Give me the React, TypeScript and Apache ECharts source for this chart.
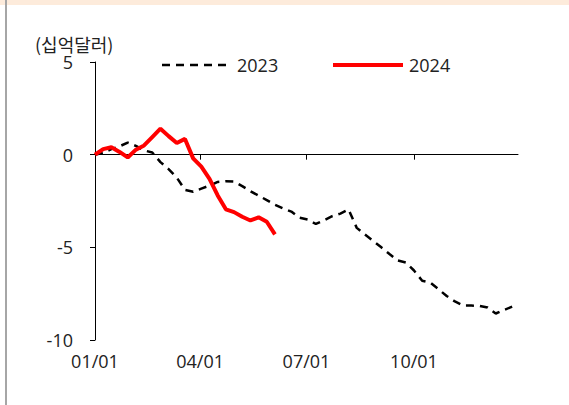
import React, { useEffect, useRef } from "react";
import * as echarts from "echarts";

const tickDays = [0, 90, 181, 273];
const tickLabels = ["01/01", "04/01", "07/01", "10/01"];
const yTicks = [5, 0, -5, -10];
const seriesNames = ["2023", "2024"];
const unitLabel = "(십억달러)";

// weekly values (week index -> day = 7 * index)
const values2023 = [
  0, 0.1, 0.3, 0.45, 0.65, 0.47, 0.23, 0.12, -0.4, -0.78,
  -1.24, -1.9, -2.0, -1.83, -1.67, -1.47, -1.43, -1.45, -1.7, -1.97,
  -2.21, -2.45, -2.7, -2.9, -3.07, -3.4, -3.5, -3.74, -3.54, -3.32,
  -3.18, -2.96, -3.95, -4.31, -4.65, -5.0, -5.36, -5.71, -5.82, -6.25,
  -6.8, -6.9, -7.26, -7.63, -7.92, -8.14, -8.14, -8.16, -8.25, -8.57,
  -8.38, -8.2,
];
const values2024 = [
  0, 0.3, 0.4, 0.15, -0.15, 0.27, 0.5, 0.95, 1.4, 1.0,
  0.63, 0.85, -0.2, -0.65, -1.3, -2.2, -2.95, -3.1, -3.35, -3.55,
  -3.38, -3.62, -4.3,
];

const NUM_FONT = "'Open Sans', 'Noto Sans CJK KR', sans-serif";
const KR_FONT = "'Noto Sans CJK KR', sans-serif";
const TXT = "#222";

export default function App() {
  const ref = useRef<HTMLDivElement>(null);
  useEffect(() => {
    if (!ref.current) return;
    const chart = echarts.init(ref.current, undefined, { renderer: "svg" });
    const toPairs = (arr: number[]) => arr.map((v, i) => [i * 7, v]);
    chart.setOption({
      animation: false,
      backgroundColor: "#ffffff",
      grid: { left: 95, top: 62, right: 51, bottom: 65, containLabel: false },
      graphic: [
        { type: "rect", left: 0, top: 0, shape: { width: 569, height: 5 }, style: { fill: "#FDEBDB" } },
        { type: "rect", left: 5, top: 0, shape: { width: 2, height: 405 }, style: { fill: "#A6A6A6" } },
        {
          type: "text",
          x: 35,
          y: 43.5,
          style: {
            text: unitLabel,
            fontSize: 18,
            lineHeight: 17,
            fill: TXT,
            fontFamily: KR_FONT,
            verticalAlign: "middle",
          },
        },
        {
          type: "line",
          shape: { x1: 162, y1: 65, x2: 226, y2: 65 },
          style: { stroke: "#000", lineWidth: 2.5, lineDash: [8, 6] },
        },
        {
          type: "text",
          x: 237,
          y: 65,
          style: { text: seriesNames[0], fontSize: 18, fill: TXT, fontFamily: NUM_FONT, verticalAlign: "middle" },
        },
        {
          type: "line",
          shape: { x1: 333, y1: 65, x2: 403, y2: 65 },
          style: { stroke: "#FF0000", lineWidth: 4 },
        },
        {
          type: "text",
          x: 409,
          y: 65,
          style: { text: seriesNames[1], fontSize: 18, fill: TXT, fontFamily: NUM_FONT, verticalAlign: "middle" },
        },
      ],
      xAxis: [
        {
          type: "value",
          min: 0,
          max: 362,
          axisLine: { onZero: true, lineStyle: { color: "#000", width: 1 } },
          axisTick: { show: true, length: 5, customValues: tickDays, lineStyle: { color: "#000" } },
          axisLabel: { show: false },
          splitLine: { show: false },
        },
        {
          type: "value",
          min: 0,
          max: 362,
          position: "bottom",
          axisLine: { show: false, onZero: false },
          axisTick: { show: false },
          axisLabel: {
            show: true,
            customValues: tickDays,
            margin: 12,
            fontSize: 18,
            color: TXT,
            fontFamily: NUM_FONT,
            formatter: (v: number) => tickLabels[tickDays.indexOf(v)] ?? "",
          },
          splitLine: { show: false },
        },
      ],
      yAxis: {
        type: "value",
        min: yTicks[yTicks.length - 1],
        max: yTicks[0],
        interval: 5,
        axisLine: { show: true, lineStyle: { color: "#000", width: 1 } },
        axisTick: { show: true, length: 5, lineStyle: { color: "#000" } },
        axisLabel: { margin: 22, fontSize: 18, lineHeight: 17, color: TXT, fontFamily: NUM_FONT },
        splitLine: { show: false },
      },
      series: [
        {
          name: seriesNames[0],
          type: "line",
          xAxisIndex: 0,
          data: toPairs(values2023),
          symbol: "none",
          lineStyle: { color: "#000", width: 2.5, type: [8, 6] },
          itemStyle: { color: "#000" },
          z: 2,
        },
        {
          name: seriesNames[1],
          type: "line",
          xAxisIndex: 0,
          data: toPairs(values2024),
          symbol: "none",
          lineStyle: { color: "#FF0000", width: 4 },
          itemStyle: { color: "#FF0000" },
          z: 3,
        },
      ],
    });
    return () => chart.dispose();
  }, []);
  return (
    <div
      ref={ref}
      style={{ position: "absolute", left: 0, top: 0, width: 569, height: 405 }}
    />
  );
}
